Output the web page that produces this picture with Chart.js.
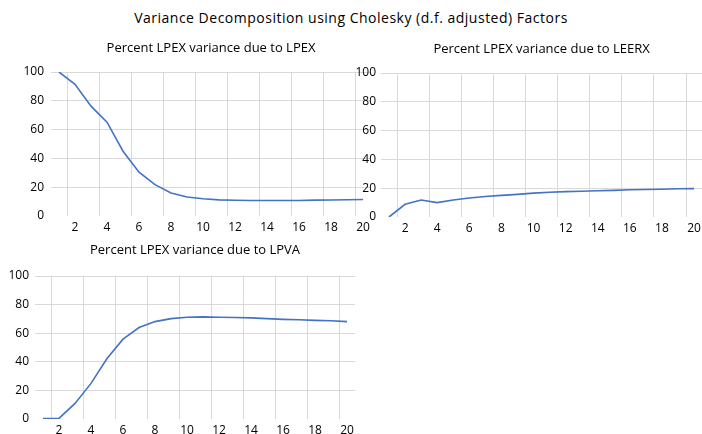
<!DOCTYPE html>
<html>
<head>
<meta charset="utf-8">
<script src="https://cdn.jsdelivr.net/npm/chart.js@4.4.1/dist/chart.umd.min.js"></script>
<style>
  html, body { margin: 0; padding: 0; background: #fff; overflow: hidden; }
  #page { position: relative; width: 702px; height: 434px; overflow: hidden; }
  #mainTitle {
    position: absolute; left: 0; top: 8px; width: 702px; text-align: center;
    font: 14px "Open Sans", sans-serif; letter-spacing: 0.5px; color: #000;
  }
  .box { position: absolute; }
</style>
</head>
<body>
<div id="page">
  <div id="mainTitle">Variance Decomposition using Cholesky (d.f. adjusted) Factors</div>
  <div class="box" style="left:0;top:40px;width:374px;height:196px"><canvas id="c1"></canvas></div>
  <div class="box" style="left:340px;top:41px;width:365px;height:196px"><canvas id="c2"></canvas></div>
  <div class="box" style="left:0;top:242px;width:358px;height:197px"><canvas id="c3"></canvas></div>
</div>
<script>
// periods 1..20
const periods = ['1','2','3','4','5','6','7','8','9','10','11','12','13','14','15','16','17','18','19','20'];
const yTicks = [0, 20, 40, 60, 80, 100];

// percent of LPEX forecast variance explained by each shock
const dueToLPEX  = [100, 91.4, 76.3, 65.2, 45.0, 30.4, 21.8, 16.0, 13.2, 12.0, 11.2, 10.9, 10.8, 10.8, 10.8, 10.8, 11.0, 11.1, 11.3, 11.5];
const dueToLEERX = [0, 8.8, 11.8, 10.0, 11.8, 13.2, 14.2, 15.0, 15.7, 16.6, 17.2, 17.6, 17.9, 18.2, 18.5, 18.9, 19.1, 19.3, 19.6, 19.7];
const dueToLPVA  = [0.3, 0.4, 10.9, 24.9, 42.3, 55.8, 64.0, 68.1, 70.2, 71.2, 71.4, 71.2, 71.0, 70.7, 70.2, 69.7, 69.4, 69.0, 68.7, 68.1];

const FONT = '"Open Sans", sans-serif';
const GRID = '#d9d9d9';
const LINE = '#4472C4';

function makeChart(id, title, values, yWidth, yPad, titleGap) {
  return new Chart(document.getElementById(id), {
    type: 'line',
    data: {
      labels: periods,
      datasets: [{
        data: values,
        borderColor: LINE,
        borderWidth: 1.6,
        pointRadius: 0,
        tension: 0,
        fill: false,
      }],
    },
    options: {
      responsive: true,
      maintainAspectRatio: false,
      animation: false,
      layout: { padding: { left: 0, right: 0, top: 0, bottom: 0 } },
      plugins: {
        legend: { display: false },
        tooltip: { enabled: false },
        title: {
          display: true,
          text: title,
          fullSize: false,
          color: '#000',
          font: { family: FONT, size: 13, weight: 'normal', lineHeight: 1.2 },
          padding: { top: 0, bottom: titleGap },
        },
      },
      scales: {
        x: {
          type: 'category',
          offset: true,
          border: { display: false },
          grid: {
            offset: true,
            drawTicks: false,
            color: c => (c.index % 2 === 1 ? GRID : 'rgba(0,0,0,0)'),
          },
          ticks: {
            autoSkip: false,
            maxRotation: 0,
            padding: 4,
            color: '#000',
            font: { family: FONT, size: 12 },
            callback: (v, i) => (i % 2 === 1 ? periods[i] : ''),
          },
          afterFit: s => { s.height = 20; },
        },
        y: {
          min: 0,
          max: 100,
          border: { display: false },
          grid: {
            drawTicks: false,
            color: c => (c.tick && c.tick.value === 0 ? 'rgba(0,0,0,0)' : GRID),
          },
          afterBuildTicks: s => { s.ticks = yTicks.map(v => ({ value: v })); },
          ticks: {
            padding: yPad,
            color: '#000',
            font: { family: FONT, size: 12 },
          },
          afterFit: s => { s.width = yWidth; },
        },
      },
    },
  });
}

makeChart('c1', 'Percent LPEX variance due to LPEX', dueToLPEX, 51, 7, 16.4);
makeChart('c2', 'Percent LPEX variance due to LEERX', dueToLEERX, 41, 5, 16.4);
makeChart('c3', 'Percent LPEX variance due to LPVA', dueToLPVA, 35, 6, 18.4);
</script>
</body>
</html>
